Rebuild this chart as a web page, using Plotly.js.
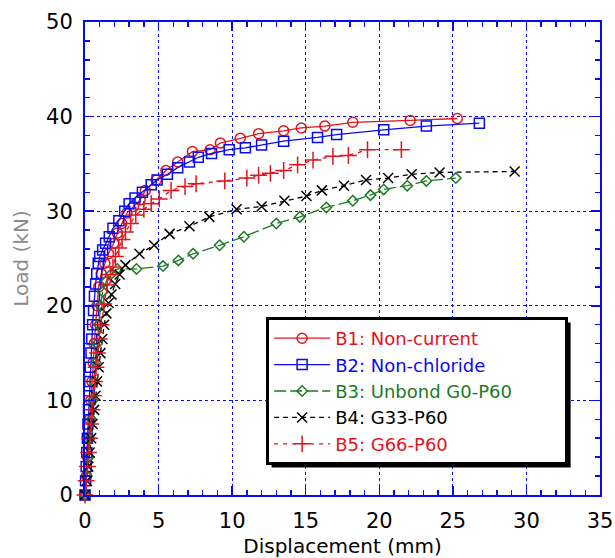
<!DOCTYPE html>
<html>
<head>
<meta charset="utf-8">
<script src="https://cdn.plot.ly/plotly-3.0.1.min.js"></script>
<style>html,body{margin:0;padding:0;background:#fff;}#chart{width:615px;height:558px;}</style>
</head>
<body>
<div id="chart"></div>
<script>
// ---- data (Displacement in mm, Load in kN) ----
const seriesNames = ["B1: Non-current", "B2: Non-chloride", "B3: Unbond G0-P60", "B4: G33-P60", "B5: G66-P60"];

const b1X = [0, 0.1, 0.18, 0.26, 0.33, 0.4, 0.47, 0.55, 0.63, 0.72, 0.82, 0.93, 1.1, 1.35, 1.6, 1.95, 2.2, 2.5, 2.85, 3.3, 3.75, 4.1, 4.85, 5.5, 6.3, 7.3, 8.5, 9.2, 10.55, 11.8, 13.5, 14.7, 16.3, 18.2, 22.1, 25.3];
const b1Y = [0, 2, 4, 6, 8, 10, 12, 14, 16, 18, 20, 22, 23.4, 24.5, 25.5, 26.6, 27.7, 28.7, 29.8, 30.5, 31.2, 32.2, 33.3, 34.3, 35.2, 36.3, 36.5, 37.2, 37.7, 38.2, 38.5, 38.8, 39.0, 39.4, 39.6, 39.8];

const b2X = [0, 0.04, 0.08, 0.12, 0.16, 0.2, 0.24, 0.28, 0.32, 0.36, 0.41, 0.46, 0.52, 0.58, 0.64, 0.72, 0.8, 0.9, 1.0, 1.2, 1.4, 1.65, 1.9, 2.3, 2.7, 3.0, 3.4, 3.9, 4.5, 4.9, 5.6, 6.3, 7.1, 7.7, 8.6, 9.8, 10.9, 12.0, 13.5, 15.8, 17.1, 20.3, 23.2, 26.8];
const b2Y = [0, 1.5, 3, 4.5, 6, 7.5, 9, 10.5, 12, 13.5, 15, 16.5, 18, 19.5, 21, 22.3, 23.4, 24.5, 25.2, 25.9, 26.6, 27.3, 28.2, 29.0, 30.0, 30.8, 31.4, 32.0, 32.8, 33.3, 33.9, 34.6, 35.2, 35.7, 36.1, 36.5, 36.7, 37.0, 37.4, 37.8, 38.1, 38.6, 39.0, 39.3];

const b3X = [0, 0.12, 0.22, 0.32, 0.42, 0.52, 0.62, 0.72, 0.82, 0.93, 1.05, 1.2, 1.45, 1.8, 2.2, 3.5, 5.3, 6.35, 7.35, 9.15, 10.8, 13.0, 14.6, 16.4, 18.2, 19.4, 20.3, 21.9, 23.2, 25.2];
const b3Y = [0, 2, 4, 6, 8, 10, 12, 14, 16, 18, 20, 21.5, 22.6, 23.4, 23.9, 23.9, 24.2, 24.8, 25.5, 26.4, 27.3, 28.7, 29.4, 30.4, 31.1, 31.7, 32.3, 32.7, 33.2, 33.5];

const b4X = [0, 0.12, 0.22, 0.32, 0.42, 0.52, 0.62, 0.72, 0.82, 0.93, 1.05, 1.18, 1.3, 1.45, 1.6, 1.8, 2.05, 2.35, 2.75, 3.7, 4.7, 5.75, 7.1, 8.45, 10.3, 12.0, 13.55, 15.05, 16.1, 17.6, 19.1, 20.6, 22.2, 24.1, 29.2];
const b4Y = [0, 1.5, 3, 4.5, 6, 7.5, 9, 10.5, 12, 13.5, 15, 16.5, 18, 19.2, 20.3, 21.2, 22.3, 23.3, 24.3, 25.5, 26.4, 27.6, 28.4, 29.4, 30.2, 30.5, 31.1, 31.6, 32.2, 32.7, 33.3, 33.5, 33.9, 34.1, 34.2];

const b5X = [0, 0.08, 0.16, 0.24, 0.32, 0.4, 0.48, 0.56, 0.65, 0.75, 0.85, 0.97, 1.1, 1.28, 1.5, 1.73, 1.9, 2.07, 2.3, 2.52, 2.75, 3.1, 3.45, 4.0, 4.5, 5.05, 5.85, 6.8, 7.55, 9.5, 11.0, 11.8, 12.6, 13.5, 14.45, 15.5, 16.85, 17.9, 19.2, 21.5];
const b5Y = [0, 1.5, 3, 4.5, 6, 7.5, 9, 10.5, 12, 13.5, 15, 16.5, 18, 20.2, 22.2, 23.3, 24.1, 25.2, 26.1, 27.0, 27.8, 28.7, 29.6, 30.2, 30.8, 31.3, 32.2, 32.6, 32.9, 33.2, 33.5, 33.8, 34.0, 34.3, 34.9, 35.4, 35.8, 35.9, 36.5, 36.5];

const xTicks = [0, 5, 10, 15, 20, 25, 30, 35];
const yTicks = [0, 10, 20, 30, 40, 50];
const xTitle = "Displacement (mm)";
const yTitle = "Load (kN)";

// ---- styles ----
const RED = "#e0141e", BLUE = "#0a0af0", GREEN = "#1c7a24", BLACK = "#000000";
const FONT = "DejaVu Sans, Liberation Sans, Arial, sans-serif";

function tr(x, y, name, color, dash, symbol, size) {
  return {
    x: x, y: y, name: name, type: "scatter", mode: "lines+markers",
    line: {color: color, width: 1.3, dash: dash},
    marker: {symbol: symbol, size: size, color: color, line: {color: color, width: 1.5}},
    cliponaxis: false
  };
}

const data = [
  tr(b1X, b1Y, seriesNames[0], RED, "solid", "circle-open", 10),
  tr(b2X, b2Y, seriesNames[1], BLUE, "solid", "square-open", 10),
  tr(b3X, b3Y, seriesNames[2], GREEN, "12px,4px", "diamond-open", 8),
  tr(b4X, b4Y, seriesNames[3], BLACK, "5px,4px", "x-thin-open", 10),
  tr(b5X, b5Y, seriesNames[4], RED, "4px,5px", "cross-thin-open", 12)
];

const axisCommon = {
  showline: true, linecolor: BLUE, linewidth: 2, mirror: "allticks",
  ticks: "inside", tickcolor: BLUE, tickwidth: 1.5, ticklen: 9,
  showgrid: true, gridcolor: BLUE, griddash: "dot", gridwidth: 1.2,
  zeroline: false, tickfont: {family: FONT, size: 21, color: "#000"}
};

const layout = {
  width: 615, height: 558,
  margin: {l: 84.5, r: 14.5, t: 22, b: 63},
  paper_bgcolor: "#fff", plot_bgcolor: "#fff",
  font: {family: FONT},
  xaxis: Object.assign({}, axisCommon, {
    range: [0, 35], tickvals: xTicks, ticktext: xTicks.map(String),
    ticklabelstandoff: 6,
    minor: {dtick: 1, ticks: "inside", ticklen: 5, tickcolor: BLUE, tickwidth: 1.5, showgrid: false},
    title: {text: xTitle, font: {family: FONT, size: 20, color: "#000"}, standoff: 10}
  }),
  yaxis: Object.assign({}, axisCommon, {
    range: [0, 50], tickvals: yTicks, ticktext: yTicks.map(String),
    ticklabelstandoff: 6,
    minor: {dtick: 2, ticks: "inside", ticklen: 5, tickcolor: BLUE, tickwidth: 1.5, showgrid: false},
    title: {text: yTitle, font: {family: FONT, size: 20, color: "#8c8c8c"}, standoff: 12}
  }),
  legend: {
    x: 0.3517, y: 0.3763, xanchor: "left", yanchor: "top",
    orientation: "h", entrywidth: 225, entrywidthmode: "pixels",
    bgcolor: "#fff", bordercolor: "#000", borderwidth: 3,
    font: {family: FONT, size: 18},
    itemwidth: 56, tracegroupgap: 0
  },
  showlegend: true
};

Plotly.newPlot("chart", data, layout, {displayModeBar: false, staticPlot: true}).then(function(gd){
  // color legend texts like their series
  const cols = [RED, BLUE, GREEN, BLACK, RED];
  gd.querySelectorAll(".legend .legendtext").forEach(function(t, i){ t.style.fill = cols[i]; });
  // drop shadow behind the legend box, placed from the legend's rendered size
  const bg = gd.querySelector(".legend .bg");
  if (bg) {
    const r = bg.getBoundingClientRect(), g = gd.getBoundingClientRect();
    const s = gd._fullLayout._size, off = 4;
    const px0 = r.left - g.left + off, px1 = r.right - g.left + off;
    const py0 = r.top - g.top + off, py1 = r.bottom - g.top + off;
    Plotly.relayout(gd, {shapes: [{
      type: "rect", xref: "paper", yref: "paper", layer: "above",
      x0: (px0 - s.l) / s.w, x1: (px1 - s.l) / s.w,
      y0: 1 - (py1 - s.t) / s.h, y1: 1 - (py0 - s.t) / s.h,
      fillcolor: "#000", line: {width: 0}
    }]}).then(function(){
      gd.querySelectorAll(".legend .legendtext").forEach(function(t, i){ t.style.fill = cols[i]; });
    });
  }
});
</script>
</body>
</html>
